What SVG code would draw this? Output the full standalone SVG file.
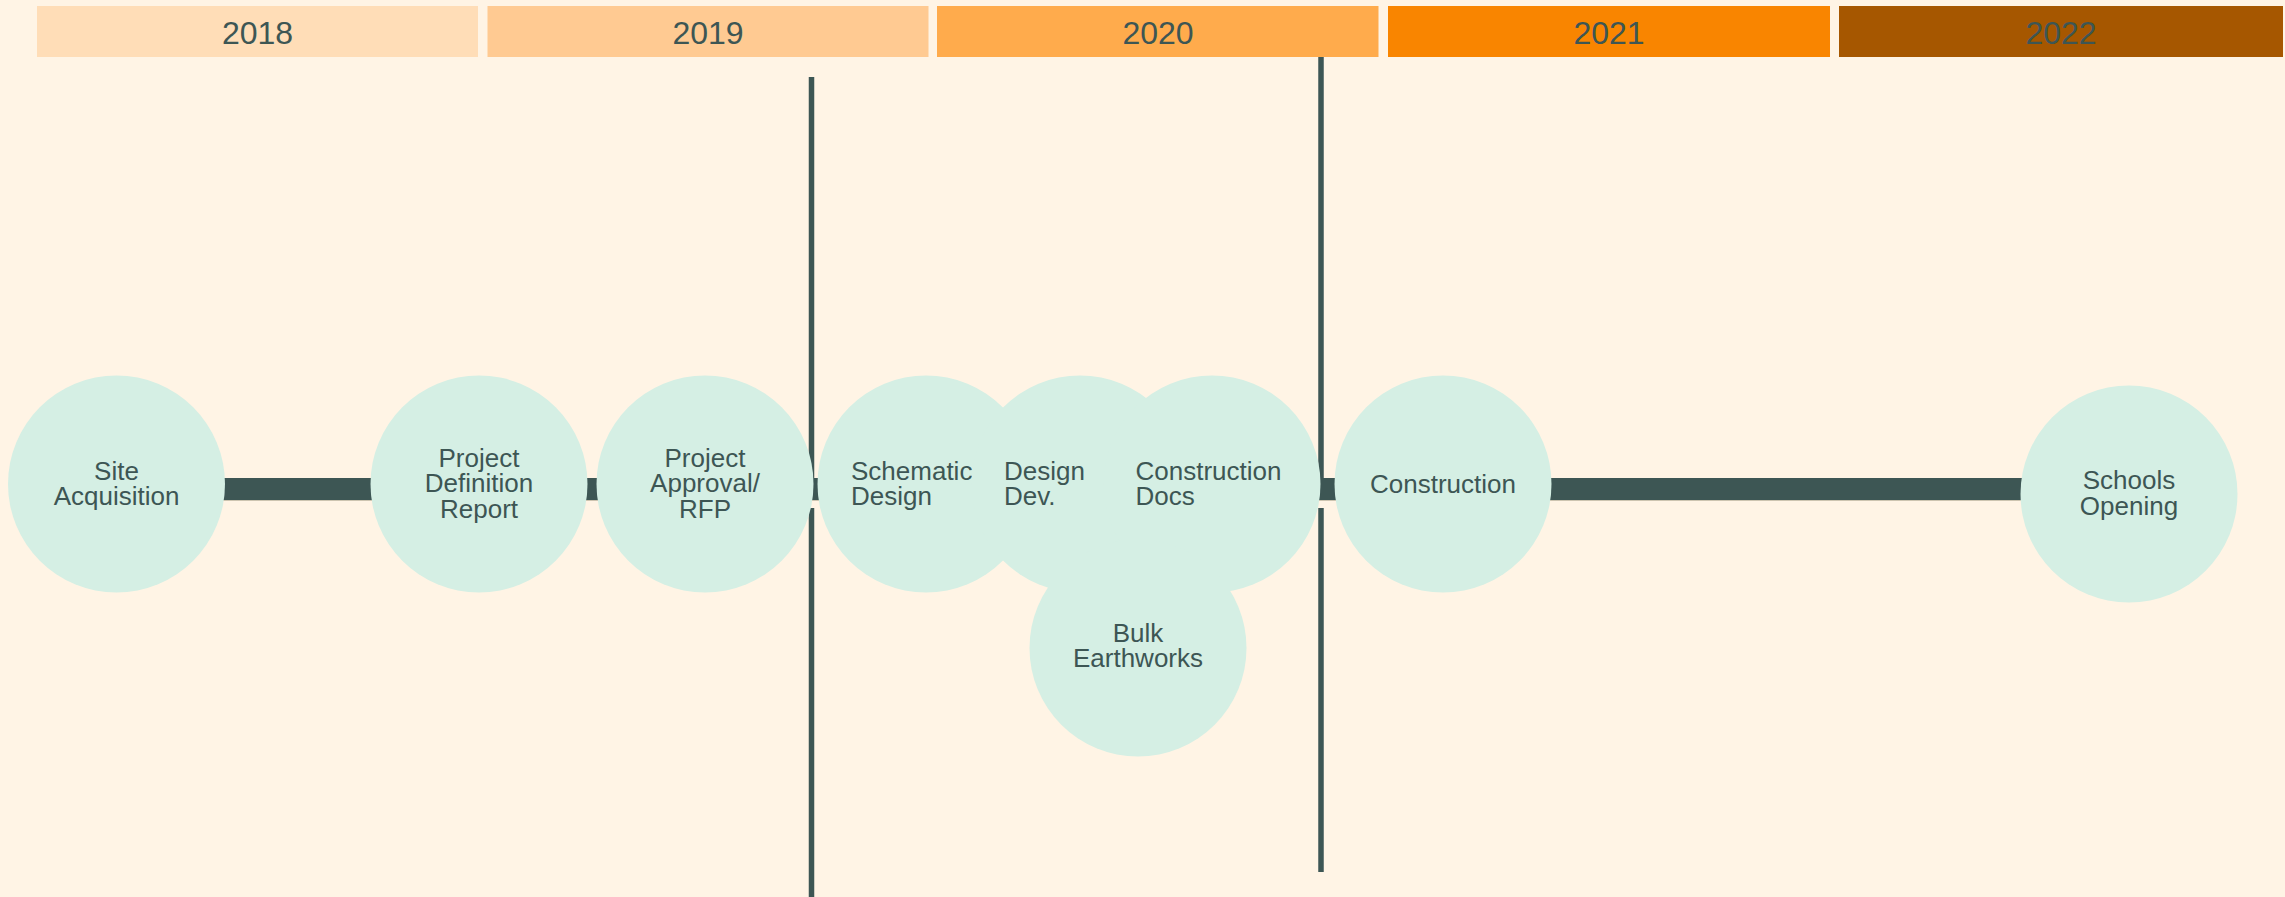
<svg xmlns="http://www.w3.org/2000/svg" width="2285" height="897" viewBox="0 0 2285 897">
  <style>
    .yr { font-family: "Liberation Sans", Arial, sans-serif; font-size: 32px; fill: #3D5654; text-anchor: middle; }
    .lbl { font-family: "Liberation Sans", Arial, sans-serif; font-size: 26px; fill: #3D5654; }
    .c { text-anchor: middle; }
    .node { fill: #D5EFE4; }
    .divider { stroke: #3D5654; stroke-width: 5.5; fill: none; }
  </style>
  <rect x="0" y="0" width="2285" height="897" fill="#FFF4E5"/>

  <g id="years">
    <g id="year-2018"><rect x="37" y="6" width="441" height="51" fill="#FFDDB7"/><text class="yr" x="257.5" y="43.5">2018</text></g>
    <g id="year-2019"><rect x="487.5" y="6" width="441" height="51" fill="#FFCA92"/><text class="yr" x="708" y="43.5">2019</text></g>
    <g id="year-2020"><rect x="937" y="6" width="441.5" height="51" fill="#FFAB4C"/><text class="yr" x="1158" y="43.5">2020</text></g>
    <g id="year-2021"><rect x="1388" y="6" width="442" height="51" fill="#F98500"/><text class="yr" x="1609" y="43.5">2021</text></g>
    <g id="year-2022"><rect x="1839" y="6" width="444" height="51" fill="#A65700"/><text class="yr" x="2061" y="43.5">2022</text></g>
  </g>

  <g id="connectors">
    <line class="divider" x1="811.5" y1="77" x2="811.5" y2="489"/>
    <line class="divider" x1="811.5" y1="508" x2="811.5" y2="897"/>
    <line class="divider" x1="1321" y1="57" x2="1321" y2="489"/>
    <line class="divider" x1="1321" y1="508" x2="1321" y2="872"/>
    <rect id="timeline" x="116" y="478" width="2013" height="22" fill="#3D5654"/>
    <line x1="116" y1="500.5" x2="2129" y2="500.5" stroke="#CDC4B0" stroke-width="1"/>
  </g>

  <g id="node-site-acquisition">
    <circle class="node" cx="116.5" cy="484" r="108.5"/>
    <text class="lbl c" x="116.5" y="479.5">Site</text>
    <text class="lbl c" x="116.5" y="505">Acquisition</text>
  </g>
  <g id="node-project-definition-report">
    <circle class="node" cx="479" cy="484" r="108.5"/>
    <text class="lbl c" x="479" y="466.5">Project</text>
    <text class="lbl c" x="479" y="492">Definition</text>
    <text class="lbl c" x="479" y="517.5">Report</text>
  </g>
  <g id="node-project-approval-rfp">
    <circle class="node" cx="705" cy="484" r="108.5"/>
    <text class="lbl c" x="705" y="466.5">Project</text>
    <text class="lbl c" x="705" y="492">Approval/</text>
    <text class="lbl c" x="705" y="517.5">RFP</text>
  </g>
  <g id="node-schematic-design">
    <circle class="node" cx="926" cy="484" r="108.5"/>
    <text class="lbl" x="851" y="479.5">Schematic</text>
    <text class="lbl" x="851" y="505">Design</text>
  </g>
  <g id="node-design-dev">
    <circle class="node" cx="1080" cy="484" r="108.5"/>
    <text class="lbl" x="1004" y="479.5">Design</text>
    <text class="lbl" x="1004" y="505">Dev.</text>
  </g>
  <g id="node-construction-docs">
    <circle class="node" cx="1212" cy="484" r="108.5"/>
    <text class="lbl" x="1135.5" y="479.5">Construction</text>
    <text class="lbl" x="1135.5" y="505">Docs</text>
  </g>
  <g id="node-bulk-earthworks">
    <circle class="node" cx="1138" cy="648" r="108.5"/>
    <text class="lbl c" x="1138" y="641.5">Bulk</text>
    <text class="lbl c" x="1138" y="667">Earthworks</text>
  </g>
  <g id="node-construction">
    <circle class="node" cx="1443" cy="484" r="108.5"/>
    <text class="lbl c" x="1443" y="492.5">Construction</text>
  </g>
  <g id="node-schools-opening">
    <circle class="node" cx="2129" cy="494" r="108.5"/>
    <text class="lbl c" x="2129" y="489">Schools</text>
    <text class="lbl c" x="2129" y="514.5">Opening</text>
  </g>
</svg>
